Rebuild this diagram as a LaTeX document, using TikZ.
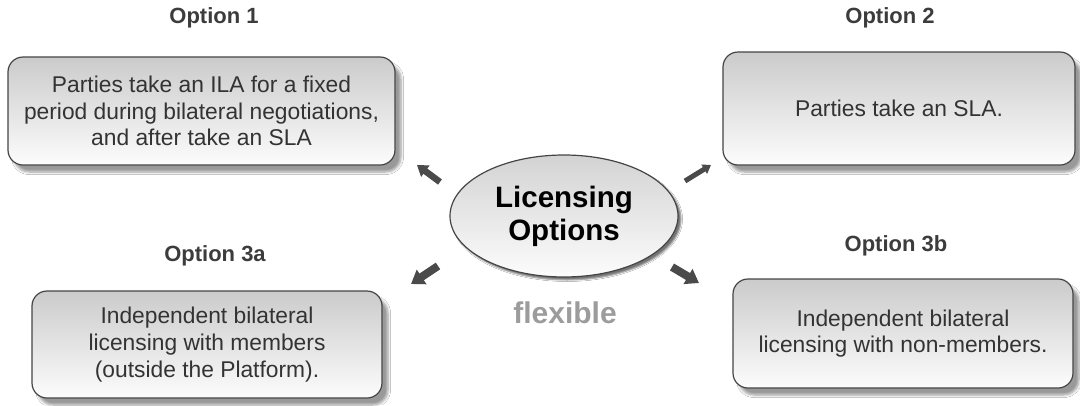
\documentclass[tikz,border=0pt]{standalone}
\usepackage{fontspec}
\setmainfont{Liberation Sans}
\usetikzlibrary{arrows.meta,shapes.geometric,shadows.blur}

\definecolor{boxtop}{HTML}{CBCBCB}
\definecolor{boxbottom}{HTML}{FCFCFC}
\definecolor{edge}{HTML}{454545}
\definecolor{bodytext}{HTML}{333333}
\definecolor{headtext}{HTML}{3C3C3C}
\definecolor{arrowgray}{HTML}{4A4A4A}
\definecolor{softgray}{HTML}{9C9C9C}

\tikzset{
  optbox/.style={draw=edge, line width=1.2pt, rounded corners=15pt,
    top color=boxtop, bottom color=boxbottom, text=bodytext, align=center,
    font=\fontsize{22.8}{26.7}\selectfont,
    blur shadow={shadow xshift=6pt, shadow yshift=-7pt, shadow blur steps=6,
      shadow blur radius=2.5pt, shadow opacity=40}},
  hub/.style={ellipse, draw=edge, line width=1.2pt,
    top color=boxtop!85, bottom color=boxbottom, align=center,
    font=\fontsize{29.5}{33}\selectfont\bfseries, text=black,
    blur shadow={shadow xshift=3pt, shadow yshift=-3pt, shadow blur steps=4,
      shadow blur radius=1.5pt, shadow opacity=55}},
  optlabel/.style={font=\fontsize{22}{26}\selectfont\bfseries, text=headtext},
  pointer/.style={draw=arrowgray, line width=#1, -{Triangle[width=2.1*#1, length=1.6*#1]}},
  pointer/.default=7pt
}

\begin{document}
\begin{tikzpicture}[x=1pt, y=-1pt]
  \useasboundingbox[fill=white] (0,0) rectangle (1080,405);

  % option boxes
  \node[optbox, minimum width=387, minimum height=108] (opt1) at (201.5,111)
    {Parties take an ILA for a fixed\\period during bilateral negotiations,\\and after take an SLA};
  \node[optbox, minimum width=352, minimum height=113] (opt2) at (899,108.5)
    {Parties take an SLA.};
  \node[optbox, minimum width=350, minimum height=107] (opt3a) at (207,344.5)
    {Independent bilateral\\licensing with members\\(outside the Platform).};
  \node[optbox, minimum width=340, minimum height=109] (opt3b) at (903,333.5)
    {Independent bilateral\\licensing with non-members.};

  % headings
  \node[optlabel] (lab1) at (214,18) {Option 1};
  \node[optlabel] (lab2) at (890,18) {Option 2};
  \node[optlabel] (lab3a) at (215,256) {Option 3a};
  \node[optlabel] (lab3b) at (896,246) {Option 3b};

  % central ellipse
  \node[hub, minimum width=228, minimum height=122, inner sep=0pt] (hub) at (564,216)
    {Licensing\\Options};
  \node[font=\fontsize{30}{32}\selectfont\bfseries, text=softgray] (flex) at (565,313) {flexible};

  % short pointers radiating from the hub
  \coordinate (p1s) at (440,182);  \coordinate (p1e) at (417,165);
  \coordinate (p2s) at (685,181);  \coordinate (p2e) at (711,165);
  \coordinate (p3s) at (438,266);  \coordinate (p3e) at (411,284);
  \coordinate (p4s) at (672,267);  \coordinate (p4e) at (699,283);
  \draw[pointer=6.5pt] (p1s) -- (p1e);
  \draw[pointer=5pt] (p2s) -- (p2e);
  \draw[pointer=8pt] (p3s) -- (p3e);
  \draw[pointer=8pt] (p4s) -- (p4e);
\end{tikzpicture}
\end{document}
